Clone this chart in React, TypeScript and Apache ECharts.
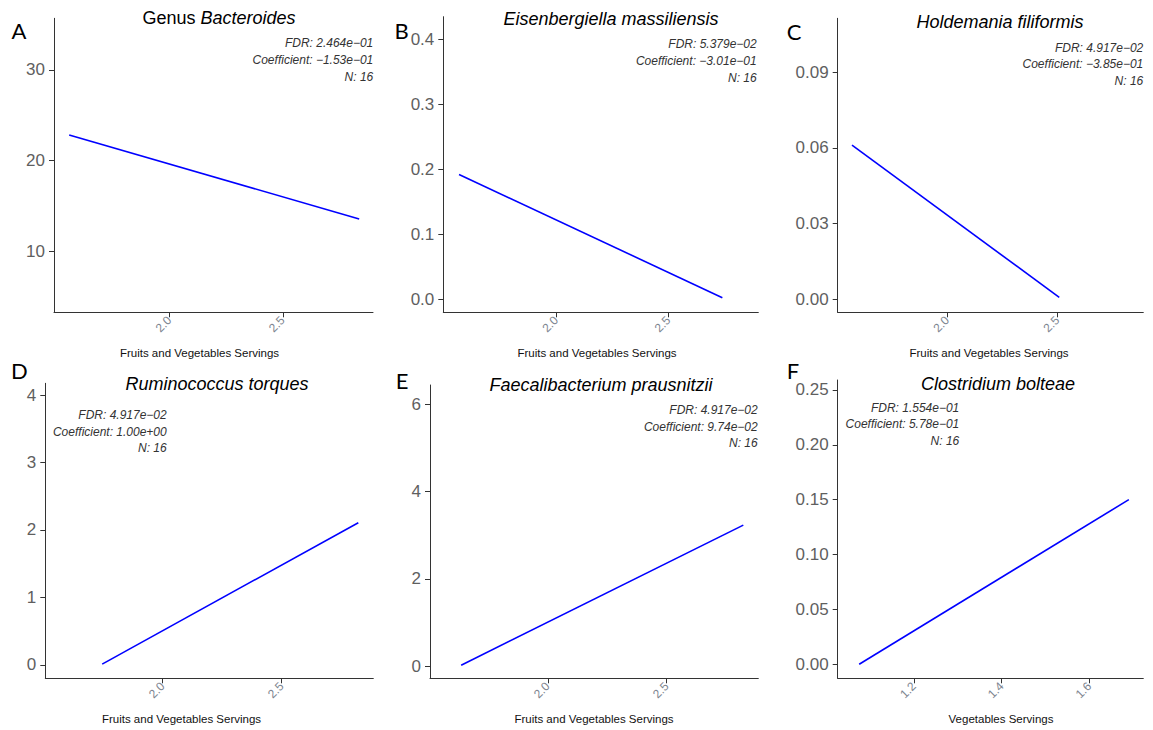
import React, { useEffect, useRef } from "react";
import * as echarts from "echarts";

// ---- Data ----
const panelTitlesPlain = ["Genus ", "", "", "", "", ""];
const panelTitlesItalic = [
  "Bacteroides",
  "Eisenbergiella massiliensis",
  "Holdemania filiformis",
  "Ruminococcus torques",
  "Faecalibacterium prausnitzii",
  "Clostridium bolteae",
];
const panelLetters = ["A", "B", "C", "D", "E", "F"];
const xAxisTitles = [
  "Fruits and Vegetables Servings",
  "Fruits and Vegetables Servings",
  "Fruits and Vegetables Servings",
  "Fruits and Vegetables Servings",
  "Fruits and Vegetables Servings",
  "Vegetables Servings",
];
const fdrValues = ["2.464e\u221201", "5.379e\u221202", "4.917e\u221202", "4.917e\u221202", "4.917e\u221202", "1.554e\u221201"];
const coefValues = ["\u22121.53e\u221201", "\u22123.01e\u221201", "\u22123.85e\u221201", "1.00e+00", "9.74e\u221202", "5.78e\u221201"];
const nValues = [16, 16, 16, 16, 16, 16];

// fitted line end points
const xA = [1.558, 2.837];
const yA = [22.83, 13.57];
const xB = [1.568, 2.74];
const yB = [0.192, 0.0025];
const xC = [1.567, 2.509];
const yC = [0.0611, 0.0008];
const xD = [1.746, 2.822];
const yD = [0.01, 2.107];
const xE = [1.636, 2.822];
const yE = [0.02, 3.23];
const xF = [1.075, 1.69];
const yF = [0.0, 0.15];

// tick values
const yTicksA = [10, 20, 30];
const yTicksB = [0, 0.1, 0.2, 0.3, 0.4];
const yTicksC = [0, 0.03, 0.06, 0.09];
const yTicksD = [0, 1, 2, 3, 4];
const yTicksE = [0, 2, 4, 6];
const yTicksF = [0, 0.05, 0.1, 0.15, 0.2, 0.25];
const xTicksFV = [2.0, 2.5];
const xTicksV = [1.2, 1.4, 1.6];

// axis limits
const xLimits = [
  [1.491, 2.898],
  [1.498, 2.9],
  [1.502, 2.891],
  [1.507, 2.885],
  [1.505, 2.885],
  [1.026, 1.723],
];
const yLimits = [
  [3.27, 35.7],
  [-0.02, 0.4348],
  [-0.0051, 0.1113],
  [-0.2, 4.174],
  [-0.28, 6.44],
  [-0.0128, 0.259],
];
const yDecimals = [0, 1, 2, 0, 0, 2];

const lineXs = [xA, xB, xC, xD, xE, xF];
const lineYs = [yA, yB, yC, yD, yE, yF];
const yTicks = [yTicksA, yTicksB, yTicksC, yTicksD, yTicksE, yTicksF];
const xTicks = [xTicksFV, xTicksFV, xTicksFV, xTicksFV, xTicksFV, xTicksV];

// ---- Layout ----
const grids = [
  { left: 54, top: 18.3, width: 319, height: 294 },
  { left: 443.3, top: 16.7, width: 315, height: 295.6 },
  { left: 837.7, top: 18.3, width: 305.6, height: 294 },
  { left: 45.3, top: 383.3, width: 328, height: 295 },
  { left: 430, top: 385, width: 328.3, height: 293.3 },
  { left: 837.7, top: 380, width: 305.6, height: 298.3 },
];
const titlePos = [
  [219, 18],
  [611, 19],
  [1000, 21.7],
  [217, 384],
  [601, 384.7],
  [998, 384],
];
const letterPos = [
  [19, 30],
  [401.7, 30],
  [794, 31],
  [19.3, 370.5],
  [402, 380],
  [793, 370.5],
];
const annoRight = [373.3, 756.7, 1143.3, 166.7, 757.7, 959.3];
const annoTop = [43.3, 44.3, 47.7, 415, 410, 407.7];
const axisTitlePos = [
  [199.5, 353],
  [597, 353],
  [989, 353],
  [181.5, 718.5],
  [594, 718.5],
  [1001, 718.5],
];

const SANS = "'Liberation Sans', Arial, Helvetica, sans-serif";

export default function App() {
  const ref = useRef<HTMLDivElement>(null);

  useEffect(() => {
    if (!ref.current) return;
    const chart = echarts.init(ref.current, undefined, { renderer: "svg" });

    const axisLineStyle = { color: "#333333", width: 1 };

    const xAxis = grids.map((_, i) => ({
      type: "value",
      gridIndex: i,
      min: xLimits[i][0],
      max: xLimits[i][1],
      splitLine: { show: false },
      axisLine: { show: true, onZero: false, lineStyle: axisLineStyle },
      axisTick: { show: true, length: 5, lineStyle: axisLineStyle, customValues: xTicks[i] },
      axisLabel: {
        show: true,
        customValues: xTicks[i],
        rotate: 45,
        margin: 6,
        fontSize: 12,
        fontFamily: SANS,
        color: "#7d8590",
        formatter: (v: number) => v.toFixed(1),
      },
    }));

    const yAxis = grids.map((_, i) => ({
      type: "value",
      gridIndex: i,
      min: yLimits[i][0],
      max: yLimits[i][1],
      splitLine: { show: false },
      axisLine: { show: true, onZero: false, lineStyle: axisLineStyle },
      axisTick: { show: true, length: 5, lineStyle: axisLineStyle, customValues: yTicks[i] },
      axisLabel: {
        show: true,
        customValues: yTicks[i],
        margin: 9,
        fontSize: 17,
        fontFamily: SANS,
        color: "#5f5f5f",
        formatter: (v: number) => v.toFixed(yDecimals[i]),
      },
    }));

    const series = grids.map((_, i) => ({
      type: "line",
      xAxisIndex: i,
      yAxisIndex: i,
      showSymbol: false,
      symbol: "none",
      silent: true,
      data: lineXs[i].map((x, k) => [x, lineYs[i][k]]),
      lineStyle: { color: "#0000ff", width: 1.6 },
      itemStyle: { color: "#0000ff" },
    }));

    const graphics: any[] = [];
    for (let i = 0; i < 6; i++) {
      const plain = panelTitlesPlain[i];
      graphics.push({
        type: "text",
        x: titlePos[i][0],
        y: titlePos[i][1],
        style: {
          text: (plain ? `{n|${plain}}` : "") + `{it|${panelTitlesItalic[i]}}`,
          align: "center",
          verticalAlign: "middle",
          fill: "#000",
          rich: {
            n: { fontSize: 18, fontFamily: SANS, fontStyle: "normal", fill: "#000" },
            it: { fontSize: 18, fontFamily: SANS, fontStyle: "italic", fill: "#000" },
          },
        },
      });
      graphics.push({
        type: "text",
        x: letterPos[i][0],
        y: letterPos[i][1],
        style: {
          text: panelLetters[i],
          align: "center",
          verticalAlign: "middle",
          fill: "#000",
          font: "22px Lato, 'Noto Sans', sans-serif",
        },
      });
      const annoLines = [`FDR: ${fdrValues[i]}`, `Coefficient: ${coefValues[i]}`, `N: ${nValues[i]}`];
      annoLines.forEach((t, k) => {
        graphics.push({
          type: "text",
          x: annoRight[i],
          y: annoTop[i] + k * 16.7,
          style: {
            text: t,
            align: "right",
            verticalAlign: "middle",
            fill: "#333333",
            font: `italic 12px ${SANS}`,
          },
        });
      });
      graphics.push({
        type: "text",
        x: axisTitlePos[i][0],
        y: axisTitlePos[i][1],
        style: {
          text: xAxisTitles[i],
          align: "center",
          verticalAlign: "middle",
          fill: "#111111",
          font: `11.5px ${SANS}`,
        },
      });
    }

    chart.setOption({
      animation: false,
      backgroundColor: "#ffffff",
      grid: grids.map((g) => ({ ...g, containLabel: false })),
      xAxis,
      yAxis,
      series,
      graphic: graphics,
    });

    return () => chart.dispose();
  }, []);

  return (
    <div
      ref={ref}
      style={{ position: "fixed", left: 0, top: 0, width: 1153, height: 730, background: "#fff" }}
    />
  );
}
